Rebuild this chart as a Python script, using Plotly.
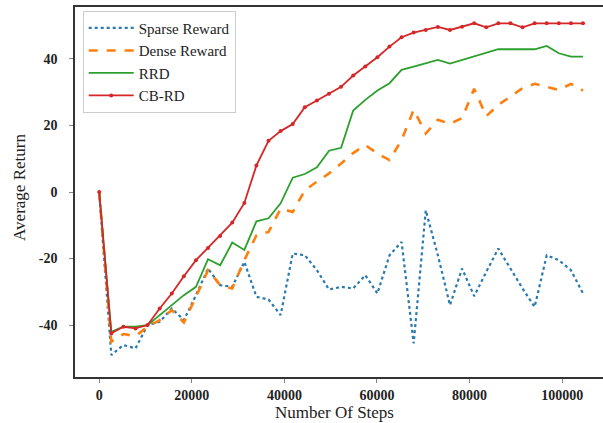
import plotly.graph_objects as go

steps = [0, 2612, 5225, 7838, 10450, 13062, 15675, 18288, 20900, 23512, 26125,
         28738, 31350, 33962, 36575, 39188, 41800, 44412, 47025, 49638, 52250,
         54862, 57475, 60088, 62700, 65312, 67925, 70538, 73150, 75762, 78375,
         80988, 83600, 86212, 88825, 91438, 94050, 96662, 99275, 101888, 104500]

sparse = [0, -49, -46, -47, -40, -39, -35, -38.5, -31, -23, -28, -28.5, -21,
          -31.5, -32.3, -37, -18.5, -19, -23.5, -29.3, -28.5, -29, -25, -30.5,
          -19, -15, -45.5, -5.5, -19, -34, -23, -31.3, -24, -17, -23, -29,
          -34.5, -19, -20.5, -23.5, -30.5]

dense = [0, -45, -42.7, -43.3, -40.5, -38.5, -35.5, -39.2, -31.5, -23.5, -28,
         -29, -20.5, -13, -12, -5, -6, 0.5, 3.1, 5.6, 8.6, 11.7, 14.1, 11.6,
         9.6, 15.6, 24.7, 17.6, 21.7, 20.5, 22.2, 31, 22.8, 26.2, 28.7, 31.2,
         32.5, 31.7, 30.7, 32.5, 30.5]

rrd = [0, -42, -40.5, -40.5, -40, -37, -34, -31, -28.5, -20.2, -22, -15.2,
       -17.4, -8.8, -7.9, -3.4, 4.3, 5.4, 7.4, 12.4, 13.3, 24.5, 27.7, 30.5,
       32.7, 36.7, 37.7, 38.7, 39.7, 38.6, 39.7, 40.8, 41.8, 42.9, 42.9, 42.9,
       42.9, 43.9, 41.7, 40.7, 40.7]

cbrd = [0, -42.5, -40.5, -41, -40, -35, -30.5, -25.3, -20.5, -16.8, -13.2,
        -9.2, -3.3, 8, 15.4, 18.3, 20.4, 25.5, 27.5, 29.5, 31.6, 35, 37.7,
        40.5, 43.7, 46.5, 47.9, 48.7, 49.6, 48.7, 49.7, 50.7, 49.5, 50.7,
        50.7, 49.5, 50.7, 50.7, 50.7, 50.7, 50.7]

x_ticks = [0, 20000, 40000, 60000, 80000, 100000]
y_ticks = [-40, -20, 0, 20, 40]

SERIF = "Liberation Serif, Times New Roman, serif"

fig = go.Figure()
fig.add_trace(go.Scatter(x=steps, y=sparse, mode="lines", name="Sparse Reward",
                         line=dict(color="#2a7ab0", width=2.2, dash="dot")))
fig.add_trace(go.Scatter(x=steps, y=dense, mode="lines", name="Dense Reward",
                         line=dict(color="#ff7f0e", width=2.6, dash="dash")))
fig.add_trace(go.Scatter(x=steps, y=rrd, mode="lines", name="RRD",
                         line=dict(color="#2ca02c", width=1.8)))
fig.add_trace(go.Scatter(x=steps, y=cbrd, mode="lines+markers", name="CB-RD",
                         line=dict(color="#d62728", width=1.8),
                         marker=dict(color="#d62728", size=4)))

fig.update_layout(
    width=603, height=423,
    margin=dict(l=75, r=0, t=7, b=46),
    paper_bgcolor="white", plot_bgcolor="white",
    font=dict(family=SERIF, color="#222"),
    legend=dict(x=0.0146, y=0.99, xanchor="left", yanchor="top",
                bgcolor="white", bordercolor="#cccccc", borderwidth=1,
                font=dict(family=SERIF, size=15, color="#222"),
                itemwidth=45, entrywidth=140, entrywidthmode="pixels"),
    showlegend=True,
    annotations=[
        dict(text="Number Of Steps", xref="paper", yref="paper",
             x=0.492, y=0, xanchor="center", yanchor="middle", yshift=-35,
             showarrow=False, font=dict(family=SERIF, size=17, color="#222")),
        dict(text="Average Return", xref="paper", yref="paper",
             x=0, y=0.511, xanchor="center", yanchor="middle", xshift=-55,
             textangle=-90, showarrow=False,
             font=dict(family=SERIF, size=17, color="#222")),
    ],
)
fig.update_xaxes(range=[-5225, 108814], tickvals=x_ticks,
                 ticktext=[str(v) for v in x_ticks], automargin=False,
                 showgrid=False, zeroline=False,
                 showline=True, linecolor="#333", linewidth=1.5, mirror=True,
                 ticks="outside", ticklen=4, tickcolor="#888",
                 tickfont=dict(family=SERIF, size=14, color="#222", weight="bold"),
                 ticklabelstandoff=0)
fig.update_yaxes(range=[-55.6, 55.6], tickvals=y_ticks,
                 ticktext=[str(v) for v in y_ticks], automargin=False,
                 showgrid=False, zeroline=False,
                 showline=True, linecolor="#333", linewidth=1.5, mirror=False,
                 ticks="outside", ticklen=4, tickcolor="#888",
                 tickfont=dict(family=SERIF, size=14, color="#222", weight="bold"),
                 ticklabelstandoff=9)

fig.write_html("out.html", config={"displayModeBar": False},
               post_script="document.body.style.margin='0px';"
                           "document.body.style.overflow='hidden';")
